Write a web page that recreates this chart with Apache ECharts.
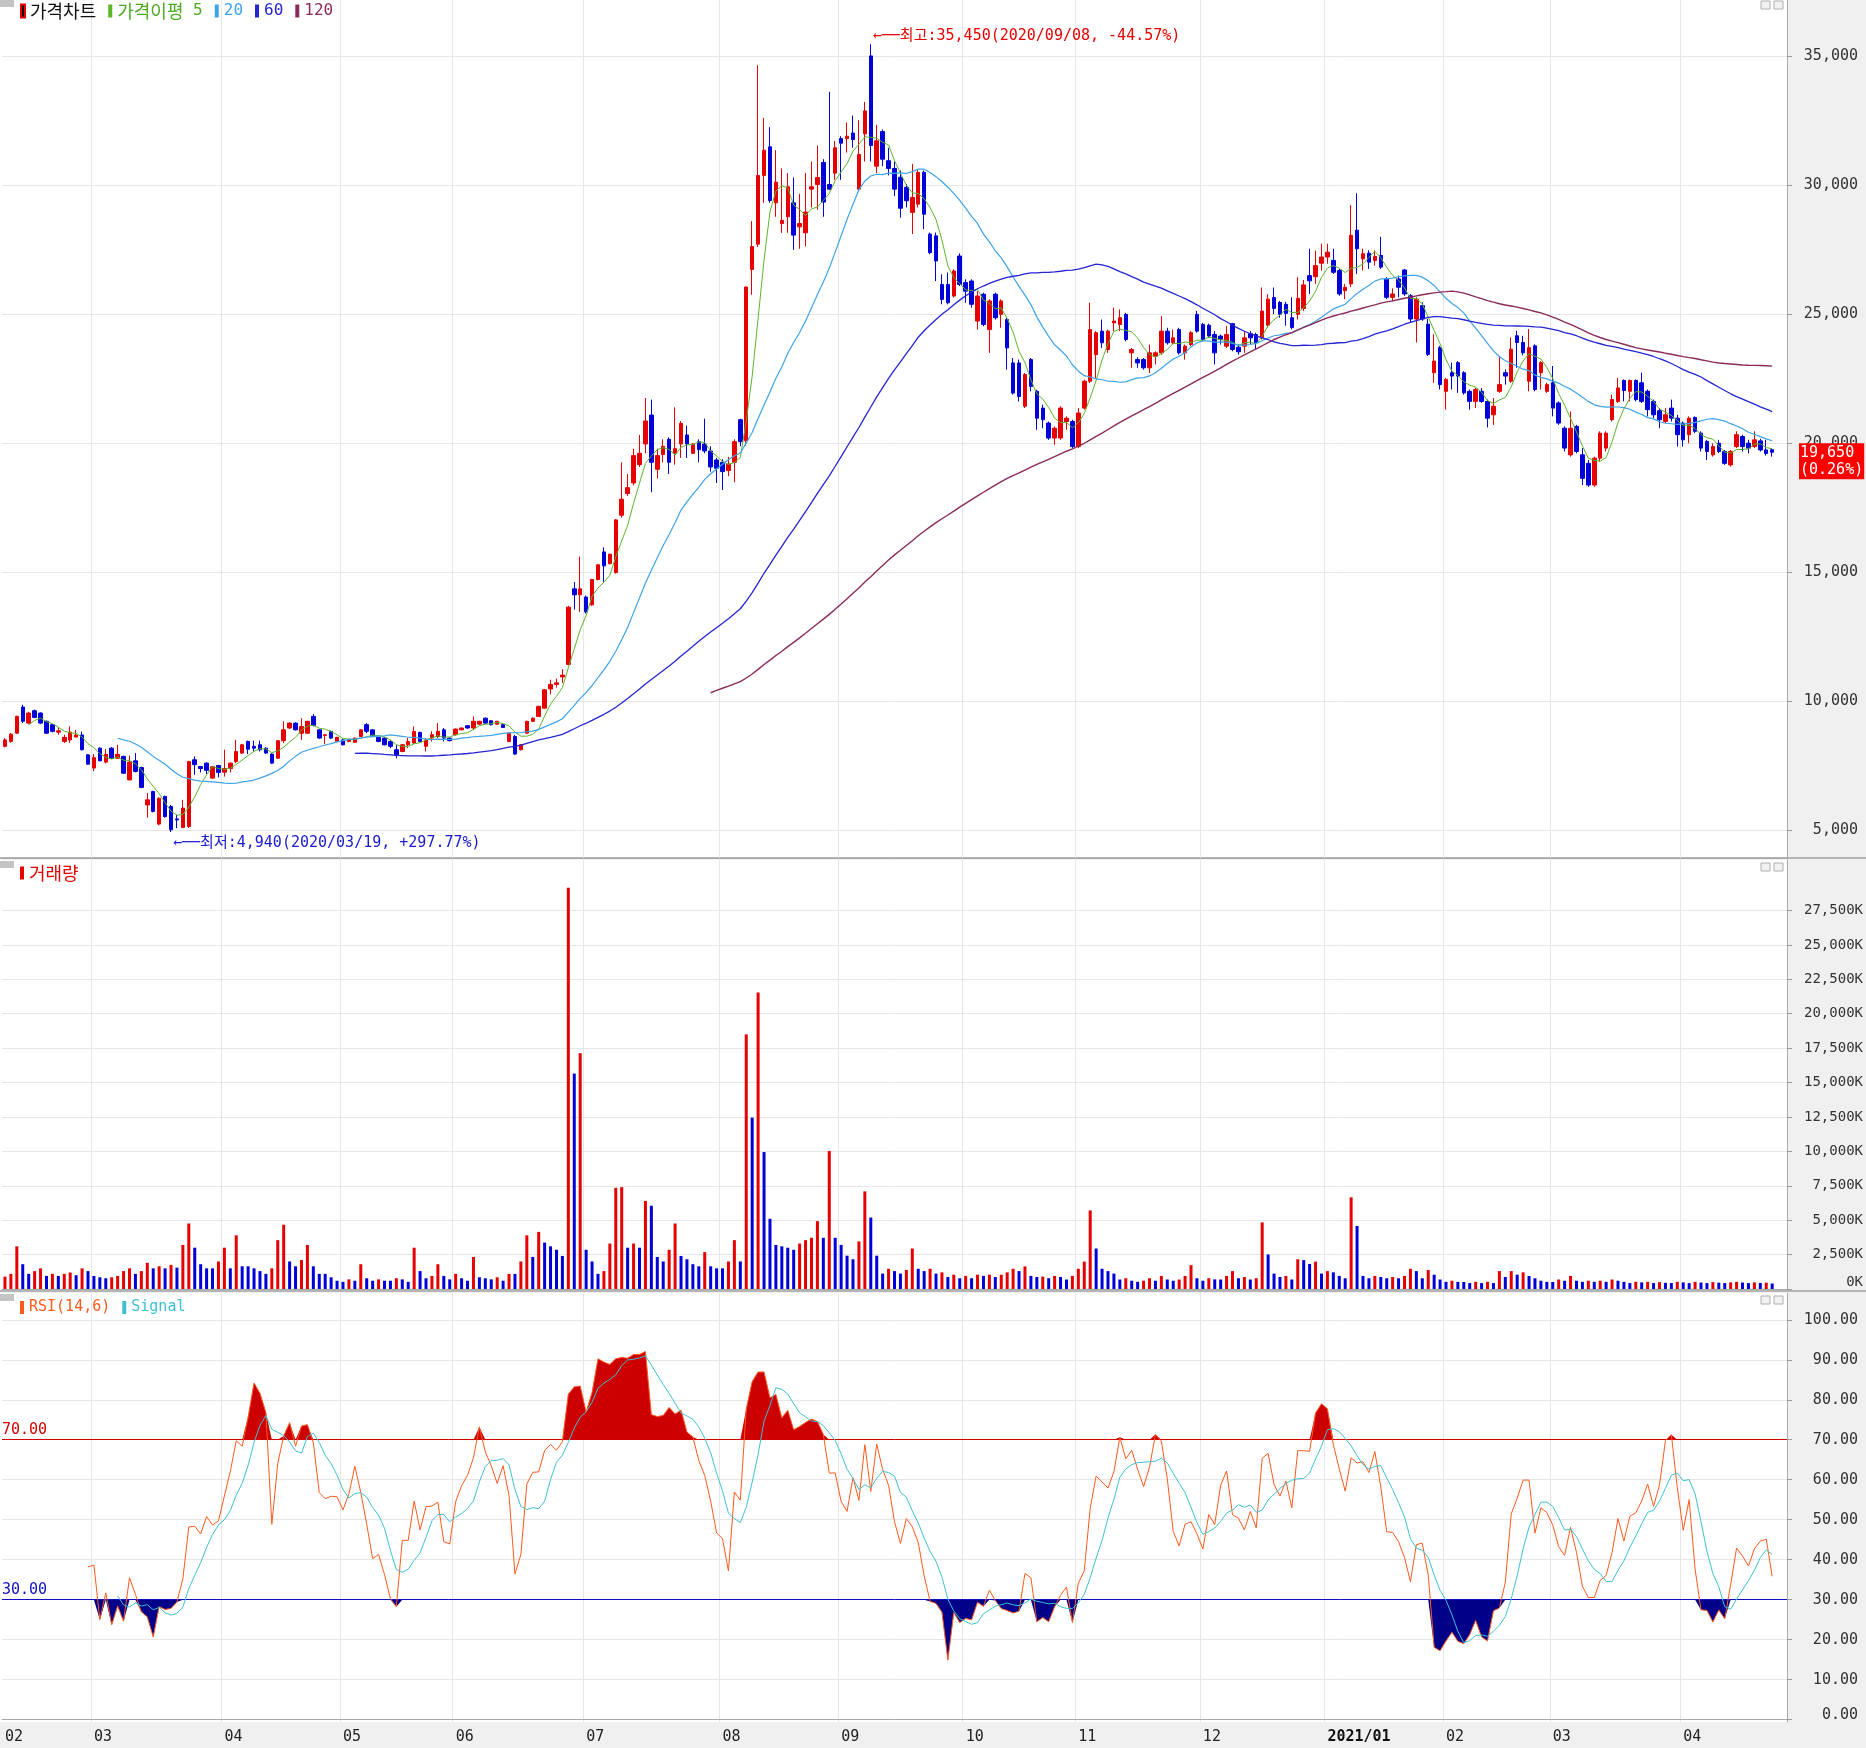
<!DOCTYPE html>
<html><head><meta charset="utf-8">
<script src="https://cdn.jsdelivr.net/npm/echarts@6/dist/echarts.min.js"></script>
<style>html,body{margin:0;padding:0;background:#f0f0f0}#c{width:1866px;height:1748px}</style>
</head><body><div id="c"></div>
<script>
const opens = [
8260,8450,8770,9780,9160,9640,9550,9230,9100,8810,
8450,8510,8620,8700,7930,7420,8190,7650,8190,7800,
7870,6960,7700,7440,5990,6510,5250,6320,5930,5450,
5120,5160,7740,7480,7610,7030,7520,7260,7400,7670,
8000,8450,8260,8320,8190,7960,7800,8480,8970,9160,
8770,8770,9420,8900,8680,8840,8450,8510,8450,8420,
8640,9100,8900,8610,8580,8450,8130,8060,8320,8390,
8800,8260,8580,8640,8900,8580,8710,8900,9060,8970,
9120,9350,9250,9120,9100,8450,8640,8130,8770,9230,
9420,9740,10480,10660,10950,11430,14360,14130,14040,13740,
14720,15790,15340,14990,17210,18050,18460,19170,19970,21090,
18990,19560,20150,19610,19970,20320,19610,20060,19970,19700,
19350,19260,18940,19260,20910,20100,26730,27710,30370,31480,
29310,28510,28770,29310,28380,28150,29840,30020,30870,30020,
30460,31800,31800,32010,29840,31980,35000,30730,32070,30940,
30640,30300,29910,28940,29260,30490,28100,28030,26150,26150,
25700,27250,26220,26280,24730,25770,24400,25770,24990,24790,
23110,23110,21430,23240,22010,21360,20780,20200,20200,20840,
20840,19870,21360,22400,23430,24340,23630,24660,24600,24990,
23500,23240,23240,22920,23370,23500,24340,23890,24400,23500,
23820,24990,24600,24570,24210,24150,23760,24630,23720,23760,
24240,24210,24090,24570,25640,25450,25380,24860,24990,25220,
26490,26450,26970,27210,27080,26690,25910,26170,28250,27140,
27360,27080,27270,26360,25650,26360,26710,25710,24810,25330,
24610,22730,23700,22010,22730,23120,22730,22010,21620,22010,
21620,21100,22010,22730,22400,24160,23900,22400,23770,22730,
22010,22340,21560,20580,19550,20650,19550,19220,18380,19420,
19810,20910,21620,22430,22010,22430,22340,22010,21620,21260,
20840,21360,20970,20780,20330,21000,20390,20070,19550,20000,
19680,19160,19870,20260,20000,19870,20090,19740,19750];
const highs = [
8580,8780,9450,9870,9600,9680,9580,9260,9120,8990,
8710,9030,8900,8830,7960,7960,8220,8150,8230,8320,
7900,7900,8000,7470,6450,6540,6280,6350,5990,5610,
6190,7700,7870,7500,7640,7500,7540,8130,7640,8510,
8350,8480,8480,8480,8220,7990,8500,9230,9190,9190,
9350,9250,9510,8930,8720,8870,8630,8540,8540,8600,
8930,9160,8930,8630,8600,8510,8320,8350,8580,9030,
8830,8580,8840,9160,8970,8600,8950,8990,9080,9420,
9250,9380,9280,9250,9120,8800,8710,8350,9250,9380,
9830,10480,10840,10880,11250,13700,14630,15610,14100,14750,
15320,15970,15720,17060,19260,18810,19790,20320,21750,21690,
19790,20150,20230,21390,20860,20680,20000,20150,20950,19880,
19430,19380,19470,20150,20950,26070,28600,34640,32600,32240,
31350,30640,30460,30290,29660,30460,30910,31530,31000,33610,
31710,31890,32420,32690,32510,33220,35450,32330,32150,31440,
30910,30560,30040,30820,30620,30560,28160,28160,26540,26610,
26740,27350,26350,26350,25890,25830,25570,25830,25570,24860,
23300,23240,22720,23300,22070,21490,20840,20650,21430,21040,
20910,21360,22460,25440,24340,24790,24400,25250,25180,25050,
23690,23330,23300,23820,23560,24920,24470,24400,24470,23820,
24340,25120,24660,24630,24340,24210,24530,24660,23820,24340,
24340,24280,26030,25770,26030,25510,25480,25650,26430,26320,
27530,27460,27730,27730,27530,26750,26170,29220,29680,27530,
27470,27470,27990,26430,26000,26490,26750,25780,25650,25450,
24810,24220,23770,22530,23120,23180,22790,22080,22140,22140,
21690,21750,23380,22860,24090,24350,24160,24420,23830,23180,
22340,22990,21620,20650,21230,20710,19810,19350,19480,20460,
20460,21880,22530,22470,22470,22470,22730,22080,21690,21360,
21360,21690,21100,20840,21040,21040,20460,20130,20000,20130,
19740,19740,20460,20330,20130,20460,20170,20130,19810];
const lows = [
8220,8400,8750,9160,9120,9350,9120,8740,8800,8710,
8390,8390,8600,8100,7540,7300,7680,7600,7780,7780,
7200,6950,7250,6640,5500,5700,5200,5500,4940,5090,
5090,5100,7160,7250,7190,7000,7060,7090,7250,7610,
7960,7960,8060,8060,7960,7580,7780,8390,8940,8870,
8510,8740,9030,8550,8350,8550,8420,8300,8420,8400,
8620,8770,8620,8420,8300,8190,7800,8030,8190,8360,
8420,8060,8450,8580,8450,8450,8680,8880,8940,8900,
9100,9130,9070,9100,8970,8420,7930,8100,8740,9200,
9400,9720,10270,10540,10720,11400,13560,13470,13400,13700,
14690,14630,15300,14950,17120,17960,18370,19080,19610,18100,
18630,19260,18810,19170,19430,19430,19580,19260,19610,18900,
18460,18190,18720,18490,19880,19900,25750,27600,29310,29310,
28770,28150,28150,27490,27530,27620,29130,29040,28770,29800,
30200,30200,31260,31440,29800,30910,30910,30460,30730,30370,
29570,28740,29130,28100,29130,28290,27320,26280,25380,25380,
25640,26090,25440,25250,24400,24530,23500,24790,24470,22850,
21880,21620,21360,22010,20520,20580,20130,19940,20130,20520,
19810,19810,21300,22330,22530,23690,23500,24340,24340,23950,
22920,22920,22850,22720,23050,23430,23820,23820,23430,23240,
23760,24280,23950,24080,23050,23820,23690,23560,23430,23500,
23820,23630,24020,24470,25000,24860,24550,24410,24790,25120,
25780,26170,26690,26950,26560,25710,25580,26040,26560,26690,
26750,26880,26750,25580,25500,25650,25710,24680,23900,24740,
23380,22340,22080,21300,22080,21950,21880,21300,21360,21560,
20610,20710,21950,22270,22340,22920,23400,22010,22010,22080,
21950,21040,20710,19680,19480,19610,18380,18310,18310,19290,
19680,20840,21560,21620,21620,21620,21560,21040,20970,20580,
20780,20840,19870,19870,20000,20390,19680,19350,19480,19610,
19160,19090,19810,19680,19610,19810,19680,19520,19480];
const closes = [
8510,8730,9420,9230,9550,9380,9160,8770,8840,8860,
8610,8810,8700,8130,7570,7820,7700,7950,7800,7950,
7220,7650,7290,6670,6190,5740,6250,5540,5030,5410,
5870,7670,7550,7400,7330,7470,7250,7400,7610,8060,
8320,8150,8190,8130,8000,7610,8480,8900,9160,8900,
9030,9230,9070,8580,8710,8580,8610,8320,8510,8580,
8900,8840,8640,8450,8320,8260,7930,8320,8450,8840,
8450,8510,8710,8840,8580,8480,8930,8970,8970,9230,
9230,9160,9100,9230,8990,8770,7960,8320,9230,9350,
9810,10450,10660,10720,11020,13650,14130,14360,13470,14720,
15290,15250,15700,17030,17830,18280,19520,19610,20860,19260,
19520,19880,19260,19790,20770,19970,19970,19750,19700,19080,
19030,18900,19190,20060,20060,26050,27620,30370,31350,29400,
30110,28630,29930,28060,28510,28950,29930,30290,29340,29840,
31440,31620,31890,31760,31180,32870,31530,31710,31000,30640,
29840,29100,29390,29520,30490,28870,27380,27060,25570,25440,
26670,26150,25890,25380,25700,24600,25510,24860,25510,23690,
21940,21810,22660,22200,20970,20910,20200,20580,21360,20970,
19870,21170,22400,24400,24280,23890,24340,24730,24860,24020,
23630,23110,22920,23500,23500,24340,23890,24080,23500,23760,
24280,24340,24020,24150,23500,24020,24210,23630,23540,24080,
24080,23890,25120,25580,25220,24990,25030,24480,25610,26130,
26290,26880,27210,27400,26620,25780,26040,28050,27530,27340,
27010,27230,26820,25650,25780,26040,25780,24810,25580,24810,
23440,23180,22270,22470,22600,22600,21950,21620,22080,21620,
20970,21430,22270,22600,23640,23900,23500,23700,22080,23120,
22270,21360,20780,19810,20580,19680,18640,18380,19420,20390,
20390,21690,22140,22040,22430,21690,21620,21300,21100,20910,
21100,20970,20330,20130,20970,20460,19810,19680,19870,19680,
19220,19680,20330,19870,19810,20130,19740,19600,19650];
const volumes = [
900,1100,3100,1800,1100,1300,1500,950,1100,950,
1100,1200,1000,1500,1300,950,850,780,850,950,
1300,1500,1100,1300,1900,1500,1650,1500,1750,1550,
3200,4760,3000,1800,1500,1500,2000,3000,1500,3900,
1650,1650,1500,1300,1100,1500,3550,4670,2000,1650,
2100,3200,1650,1100,1100,850,600,520,700,600,
1800,780,600,700,600,600,780,700,520,3000,
1300,780,950,1800,950,700,1100,780,600,2330,
850,780,700,850,600,1100,1100,2000,3900,2330,
4150,3370,3100,2850,2400,29150,15650,17130,2850,2000,
1100,1300,3300,7350,7400,3000,3300,3000,6400,6050,
2330,2000,2850,4760,2400,2160,1800,1650,2680,1650,
1500,1500,2000,3550,2000,18500,12450,21540,9950,5100,
3200,3100,3000,2850,3300,3550,3720,4930,3720,10030,
3720,3200,2420,2160,3460,7090,5190,2420,1120,1470,
1300,1120,1380,2940,1470,1300,1470,1120,1210,870,
1040,780,950,780,1040,950,1040,870,1040,1210,
1470,1300,1640,950,870,900,780,950,870,690,
950,1470,1990,5710,2940,1470,1300,1120,690,780,
600,520,600,780,600,950,690,600,690,950,
1730,780,600,780,700,690,950,1300,780,870,
690,780,4840,2510,1120,870,950,690,2160,2100,
1820,1990,1120,1300,1210,950,780,6660,4580,950,
780,950,870,780,870,780,950,1470,1300,780,
1380,1040,690,520,600,520,510,430,520,430,
520,430,1300,870,1300,1040,1210,950,780,600,
520,510,690,600,950,600,520,600,520,600,
520,690,600,520,430,520,480,520,430,500,
450,430,520,480,430,520,470,430,500,460,
430,480,520,470,430,480,440,460,400];
const holidays = ['2020/04/15','2020/04/30','2020/05/01','2020/05/05','2020/08/17','2020/09/30',
  '2020/10/01','2020/10/02','2020/10/09','2020/12/25','2020/12/31','2021/01/01','2021/02/11','2021/02/12','2021/03/01'];
const priceTicks = [5000,10000,15000,20000,25000,30000,35000];
const volumeTicks = [0,2500,5000,7500,10000,12500,15000,17500,20000,22500,25000,27500];
const rsiTicks = [0,10,20,30,40,50,60,70,80,90,100];
const maPeriods = [5,20,60,120];
const rsiPeriod = 14, signalPeriod = 6;

// ---- trading dates ----
function fmt(d){return d.getFullYear()+'/'+String(d.getMonth()+1).padStart(2,'0')+'/'+String(d.getDate()).padStart(2,'0');}
const dates=[];
for(let d=new Date(2020,1,10); d<=new Date(2021,3,22); d.setDate(d.getDate()+1)){
  const wd=d.getDay(); if(wd===0||wd===6) continue;
  const s=fmt(d); if(holidays.indexOf(s)>=0) continue; dates.push(s);
}
const cats = dates.concat([' ','  ']);
const monthStart = new Set();
dates.forEach((s,i)=>{ if(i===0 || s.slice(0,7)!==dates[i-1].slice(0,7)) monthStart.add(i); });

const RED='#e60000', BLUE='#0000d8';
const MONO="'DejaVu Sans Mono','Noto Sans CJK KR',monospace";
const CJK="'Noto Sans CJK KR',sans-serif";
const C_MA=['#5cb52c','#3ea3e8','#2424d2','#8a2a5a'];

function sma(arr,n){return arr.map((v,i)=>{ if(i<n-1||v==null) return null; let s=0; for(let j=i-n+1;j<=i;j++){ if(arr[j]==null) return null; s+=arr[j]; } return s/n; });}
const mas = maPeriods.map(p=>sma(closes,p));
// RSI: simple averages of gains / losses over the period
const rsi = closes.map((c,i)=>{ if(i<rsiPeriod) return null; let g=0,l=0; for(let j=i-rsiPeriod+1;j<=i;j++){const d=closes[j]-closes[j-1]; if(d>0) g+=d; else l-=d;} return g+l===0?50:100*g/(g+l); });
const signal = sma(rsi,signalPeriod);

const hiVal = Math.max(...highs), hiIdx = highs.indexOf(hiVal);
const loVal = Math.min(...lows), loIdx = lows.indexOf(loVal);
const last = closes[closes.length-1], prev = closes[closes.length-2];
const nf = v=>v.toLocaleString('en-US');
const pct = (a,b)=>((a/b-1)*100);
const hiText = '←──최고:'+nf(hiVal)+'('+dates[hiIdx]+', '+pct(last,hiVal).toFixed(2)+'%)';
const loText = '←──최저:'+nf(loVal)+'('+dates[loIdx]+', +'+pct(last,loVal).toFixed(2)+'%)';
const tagText = nf(last)+'\n('+pct(last,prev).toFixed(2)+'%)';

const candleData = opens.map((o,i)=>[o, closes[i], Math.min(lows[i],o,closes[i]), Math.max(highs[i],o,closes[i])]);
const volData = volumes.map((v,i)=>({value:v, itemStyle:{color:(i===0||v>volumes[i-1])?RED:BLUE}}));

const grids=[{top:0,height:858},{top:860,height:429},{top:1293,height:429}].map(g=>Object.assign({left:2,right:79,show:true,backgroundColor:'#ffffff',borderWidth:0},g));

function xAxisFor(k){
  return {type:'category', gridIndex:k, data:cats, boundaryGap:true,
    axisLine:{show:true,lineStyle:{color:'#a9a9a9'}}, axisTick:{show:false},
    axisLabel:{show:k===2, interval:(i)=>monthStart.has(i), align:'left', margin:8,
      formatter:(v)=>{ if(!v.trim()) return ''; const y=v.slice(0,4), m=v.slice(5,7); return m==='01'?'{b|'+y+'/'+m+'}':'{n|'+m+'}'; },
      rich:{n:{fontFamily:MONO,fontSize:15,color:'#222'}, b:{fontFamily:MONO,fontSize:15,color:'#111',fontWeight:'bold'}}},
    splitLine:{show:true, interval:(i)=>monthStart.has(i)&&i>0, lineStyle:{color:'#e6e6e6',width:1}}};
}
function yAxisFor(k,min,max,ticks,fmtFn,margin,fs,zeroShift){
  return {type:'value', gridIndex:k, position:'right', min:min, max:max,
    axisLine:{show:true,lineStyle:{color:'#a9a9a9'}},
    axisTick:{show:true, customValues:ticks, length:5, lineStyle:{color:'#9a9a9a'}},
    axisLabel:{customValues:ticks, align:'right', margin:margin,
      formatter:(v)=> (v===0&&zeroShift)?'{z|'+fmtFn(v)+'}':'{t|'+fmtFn(v)+'}',
      rich:{t:{fontFamily:MONO,fontSize:fs,color:'#333'}, z:{fontFamily:MONO,fontSize:fs,color:'#333',padding:[0,0,zeroShift||0,0]}}},
    splitLine:{show:true,lineStyle:{color:'#e6e6e6'}}};
}

const lineS = (name,data,color,w,xi,yi,z)=>({name, type:'line', data, xAxisIndex:xi, yAxisIndex:yi, symbol:'none', showSymbol:false, connectNulls:false, lineStyle:{color, width:w}, itemStyle:{color}, z:z||3, silent:true});

const series = [
  {name:'가격차트', type:'candlestick', xAxisIndex:0, yAxisIndex:0, data:candleData, barWidth:4, clip:false, z:2,
   itemStyle:{color:RED,color0:BLUE,borderColor:RED,borderColor0:BLUE,borderWidth:1},
   markPoint:{symbol:'circle', symbolSize:0, silent:true, animation:false, data:[
     {coord:[dates[hiIdx],hiVal], label:{show:true,position:'right',distance:2,offset:[0,-8],formatter:hiText,color:'#e60000',fontFamily:MONO,fontSize:15}},
     {coord:[dates[loIdx],loVal], label:{show:true,position:'right',distance:2,offset:[0,11],formatter:loText,color:'#1a1ad0',fontFamily:MONO,fontSize:15}}]},
   markLine:{symbol:'none', silent:true, animation:false, z:20, lineStyle:{color:'rgba(0,0,0,0)',width:0}, data:[
     {yAxis:last, label:{show:true,position:'end',distance:12,offset:[0,9],formatter:tagText,color:'#ffffff',backgroundColor:'#ff0000',fontFamily:MONO,fontSize:15,lineHeight:17,padding:[1,1,1,1]}}]}},
  lineS('가격이평 5',mas[0],C_MA[0],1,0,0,4),
  lineS('20',mas[1],C_MA[1],1.2,0,0,4),
  lineS('60',mas[2],C_MA[2],1.3,0,0,4),
  lineS('120',mas[3],C_MA[3],1.4,0,0,4),
  {name:'거래량', type:'bar', xAxisIndex:1, yAxisIndex:1, data:volData, barWidth:3, itemStyle:{color:RED}, silent:true},
  {name:'hiBase', type:'line', xAxisIndex:2, yAxisIndex:2, stack:'hi', data:rsi.map(v=>v==null?null:70), symbol:'none', lineStyle:{opacity:0}, silent:true},
  {name:'hiFill', type:'line', xAxisIndex:2, yAxisIndex:2, stack:'hi', data:rsi.map(v=>v==null?null:Math.max(v-70,0)), symbol:'none', lineStyle:{opacity:0}, areaStyle:{color:'#cc0000',opacity:1}, silent:true},
  {name:'loBase', type:'line', xAxisIndex:2, yAxisIndex:2, stack:'lo', data:rsi.map(v=>v==null?null:Math.min(v,30)), symbol:'none', lineStyle:{opacity:0}, silent:true},
  {name:'loFill', type:'line', xAxisIndex:2, yAxisIndex:2, stack:'lo', data:rsi.map(v=>v==null?null:30-Math.min(v,30)), symbol:'none', lineStyle:{opacity:0}, areaStyle:{color:'#000088',opacity:1}, silent:true},
  Object.assign(lineS('RSI(14,6)',rsi,'#ff5a1e',1,2,2,5), {markLine:{symbol:'none', silent:true, animation:false, data:[
     {yAxis:70, lineStyle:{color:'#d00000',type:'solid',width:1}, label:{show:true,position:'insideStartTop',distance:[0,2],formatter:'70.00',color:'#d00000',fontFamily:MONO,fontSize:15}},
     {yAxis:30, lineStyle:{color:'#1010c0',type:'solid',width:1}, label:{show:true,position:'insideStartTop',distance:[0,2],formatter:'30.00',color:'#1010c0',fontFamily:MONO,fontSize:15}}]}}),
  lineS('Signal',signal,'#3fc0d0',1,2,2,5)
];

const legendBase = {icon:'rect', itemWidth:4, itemHeight:13, itemGap:12, selectedMode:false, orient:'horizontal', padding:0};
const krRich = {k:{fontFamily:CJK,fontSize:18}, d:{fontFamily:MONO,fontSize:16}};
const krFmt = n => n.replace(/[^가-힣]+/g, m=>'{d|'+m+'}').replace(/[가-힣]+/g, m=>'{k|'+m+'}');
const option = {
  animation:false, backgroundColor:'#f0f0f0',
  grid:grids,
  xAxis:[xAxisFor(0),xAxisFor(1),xAxisFor(2)],
  yAxis:[
    yAxisFor(0,3936,37165,priceTicks,v=>nf(v),71,15,0),
    yAxisFor(1,0,31166,volumeTicks,v=>nf(v)+'K',76,14,14),
    yAxisFor(2,-0.6,106.7,rsiTicks,v=>v.toFixed(2),71,15,9)
  ],
  legend:[
    Object.assign({},legendBase,{left:20,top:2,formatter:krFmt,textStyle:{fontFamily:CJK,fontSize:18,rich:krRich},data:[
      {name:'가격차트',itemStyle:{color:'#111'},textStyle:{color:'#111'}},
      {name:'가격이평 5',itemStyle:{color:C_MA[0]},textStyle:{color:'#4daa22'}},
      {name:'20',itemStyle:{color:C_MA[1]},textStyle:{color:C_MA[1]}},
      {name:'60',itemStyle:{color:C_MA[2]},textStyle:{color:C_MA[2]}},
      {name:'120',itemStyle:{color:C_MA[3]},textStyle:{color:C_MA[3]}}]}),
    Object.assign({},legendBase,{left:20,top:864,textStyle:{fontFamily:CJK,fontSize:18},data:[
      {name:'거래량',itemStyle:{color:RED},textStyle:{color:RED}}]}),
    Object.assign({},legendBase,{left:20,top:1300,textStyle:{fontFamily:MONO,fontSize:15},data:[
      {name:'RSI(14,6)',itemStyle:{color:'#ff5a1e'},textStyle:{color:'#ff5a1e'}},
      {name:'Signal',itemStyle:{color:'#3fc0d0'},textStyle:{color:'#3fc0d0'}}]})
  ],
  graphic:[
    {type:'rect',shape:{x:0,y:0,width:2,height:1722},style:{fill:'#ffffff'},silent:true},
    {type:'rect',shape:{x:0,y:857,width:1866,height:2},style:{fill:'#b5b5b5'},silent:true},
    {type:'rect',shape:{x:0,y:1290,width:1866,height:2},style:{fill:'#b5b5b5'},silent:true},
    {type:'rect',shape:{x:0,y:0,width:14,height:7},style:{fill:'#c4c4c4'},silent:true},
    {type:'rect',shape:{x:0,y:861,width:14,height:7},style:{fill:'#c4c4c4'},silent:true},
    {type:'rect',shape:{x:0,y:1294,width:14,height:7},style:{fill:'#c4c4c4'},silent:true},
    {type:'rect',shape:{x:1761,y:1,width:9,height:8},style:{fill:'#f2f2f2',stroke:'#b0b0b0'},silent:true},
    {type:'rect',shape:{x:1774,y:1,width:9,height:8},style:{fill:'#f2f2f2',stroke:'#b0b0b0'},silent:true},
    {type:'rect',shape:{x:1761,y:863,width:9,height:8},style:{fill:'#f2f2f2',stroke:'#b0b0b0'},silent:true},
    {type:'rect',shape:{x:1774,y:863,width:9,height:8},style:{fill:'#f2f2f2',stroke:'#b0b0b0'},silent:true},
    {type:'rect',shape:{x:1761,y:1296,width:9,height:8},style:{fill:'#f2f2f2',stroke:'#b0b0b0'},silent:true},
    {type:'rect',shape:{x:1774,y:1296,width:9,height:8},style:{fill:'#f2f2f2',stroke:'#b0b0b0'},silent:true}
  ],
  series:series
};
const chart = echarts.init(document.getElementById('c'),null,{renderer:'canvas'});
chart.setOption(option);
</script></body></html>
